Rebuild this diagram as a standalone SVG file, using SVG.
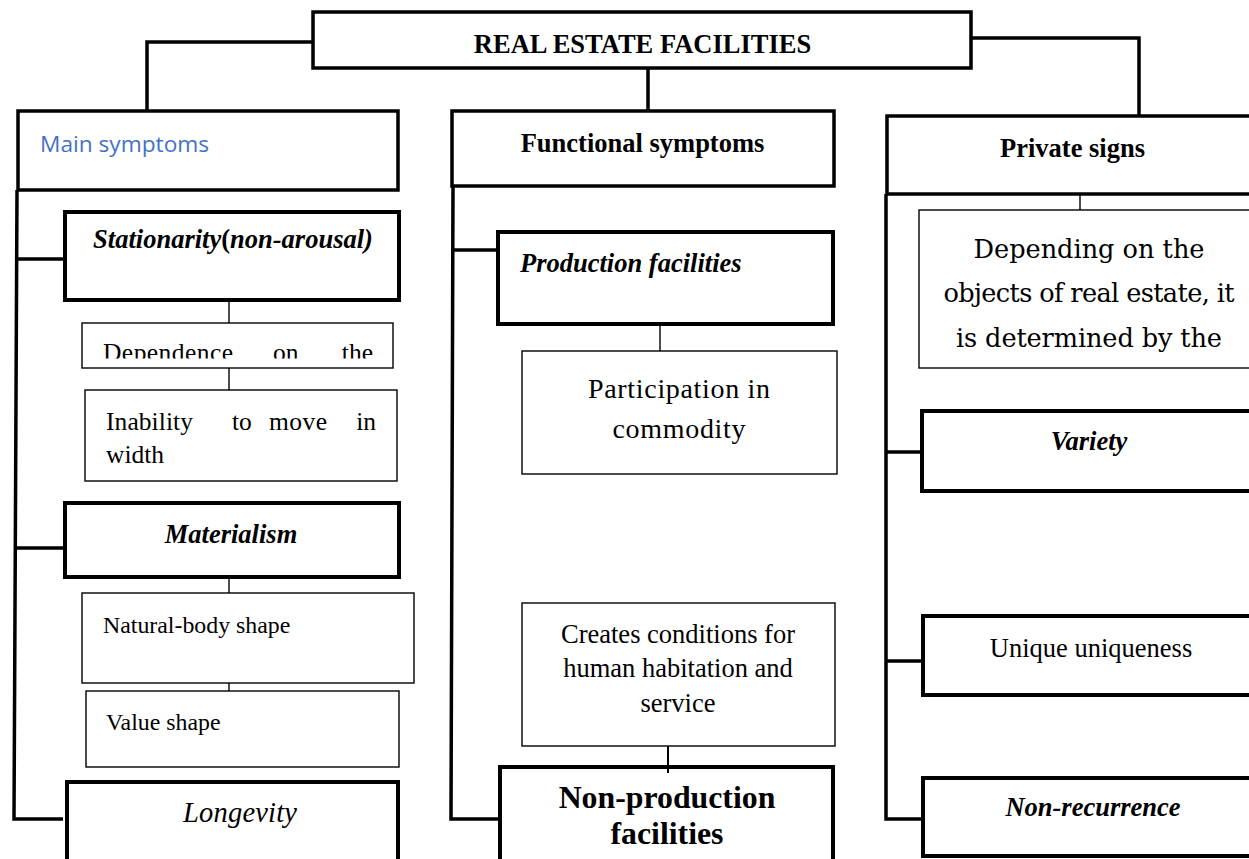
<svg xmlns="http://www.w3.org/2000/svg" width="1249" height="859" viewBox="0 0 1249 859">
<style>
  .bx{fill:#fff;stroke:#000}
  .t3{stroke-width:3.5}
  .t4{stroke-width:4}
  .t1{stroke-width:1.4}
  .c{fill:none;stroke:#000;stroke-width:3.5}
  .cs{fill:none;stroke:#000;stroke-width:1.4}
  text{font-family:"Liberation Serif","Times New Roman",serif;fill:#000}
  .b{font-weight:bold;font-size:26.5px}
  .bi{font-weight:bold;font-style:italic;font-size:26.5px}
  .r{font-size:26.5px}
  .r18{font-size:23.85px}
  .pal{font-family:"DejaVu Serif",serif}
  .p18{font-size:25.5px}
  .p20{font-size:28px}
  .p22{font-size:25.6px}
  .m{text-anchor:middle}
  .e{text-anchor:end}
</style>
<defs>
  <clipPath id="clipDep"><rect x="82" y="323" width="311" height="35.5"/></clipPath>
</defs>
<rect width="1249" height="859" fill="#fff"/>

<g id="connectors">
  <path class="c" d="M313,42 H147 V111"/>
  <path class="c" d="M971,38 H1139 V116"/>
  <path class="c" d="M648,68 V111"/>
  <path class="c" d="M17,190 L14,819 H63"/>
  <path class="c" d="M17,259 H65"/>
  <path class="c" d="M16,548 H65"/>
  <path class="c" d="M453,186 L451,819 H500"/>
  <path class="c" d="M453,250 H498"/>
  <path class="c" d="M886,194 V819 H923"/>
  <path class="c" d="M886,452 H922"/>
  <path class="c" d="M886,661 H923"/>
  <path class="cs" d="M229,300 V323"/>
  <path class="cs" d="M229,368 V390"/>
  <path class="cs" d="M229,577 V593"/>
  <path class="cs" d="M229,683 V691"/>
  <path class="cs" d="M660,324 V351"/>
  <path class="cs" d="M1080,194 V210"/>
</g>

<g id="root">
  <rect class="bx t3" x="313" y="12" width="658" height="56"/>
  <text class="b m" x="642.5" y="53">REAL ESTATE FACILITIES</text>
</g>

<g id="main-symptoms">
  <rect class="bx t3" x="18" y="111" width="380" height="79"/>
  <text x="40" y="152" style="font-family:'Open Sans','Noto Sans',sans-serif;font-size:22.7px;fill:#4472C4">Main symptoms</text>
</g>

<g id="functional-symptoms">
  <rect class="bx t3" x="452" y="111" width="382" height="75"/>
  <text class="b m" x="642.5" y="152">Functional symptoms</text>
</g>

<g id="private-signs">
  <rect class="bx t3" x="887" y="116" width="380" height="78"/>
  <text class="b m" x="1072.5" y="157">Private signs</text>
</g>

<g id="stationarity">
  <rect class="bx t4" x="65" y="212" width="334" height="88"/>
  <text class="bi m" x="233" y="248">Stationarity<tspan font-style="normal">(</tspan>non-arousal)</text>
</g>

<g id="dependence">
  <rect class="bx t1" x="82" y="323" width="311" height="45"/>
  <g clip-path="url(#clipDep)">
    <text class="p18" x="103" y="361" textLength="130" lengthAdjust="spacing">Dependence</text>
    <text class="p18" x="273" y="361">on</text>
    <text class="p18 e" x="373" y="361">the</text>
  </g>
</g>

<g id="inability">
  <rect class="bx t1" x="85" y="390" width="312" height="91"/>
  <text class="p18" x="106" y="430" textLength="87" lengthAdjust="spacing">Inability</text>
  <text class="p18" x="232" y="430">to</text>
  <text class="p18" x="269" y="430" textLength="58" lengthAdjust="spacing">move</text>
  <text class="p18 e" x="376" y="430">in</text>
  <text class="p18" x="106" y="463">width</text>
</g>

<g id="materialism">
  <rect class="bx t4" x="65" y="503" width="334" height="74"/>
  <text class="bi m" x="231" y="543">Materialism</text>
</g>

<g id="natural-body">
  <rect class="bx t1" x="82" y="593" width="332" height="90"/>
  <text class="r18" x="103" y="633">Natural-body shape</text>
</g>

<g id="value-shape">
  <rect class="bx t1" x="86" y="691" width="313" height="76"/>
  <text class="r18" x="106" y="730">Value shape</text>
</g>

<g id="longevity">
  <rect class="bx t4" x="67" y="782" width="331" height="100"/>
  <text class="m" x="240" y="822" font-style="italic" font-size="28.5" textLength="114" lengthAdjust="spacing">Longevity</text>
</g>

<g id="production">
  <rect class="bx t4" x="498" y="232" width="335" height="92"/>
  <text class="bi" x="520" y="272">Production facilities</text>
</g>

<g id="participation">
  <rect class="bx t1" x="522" y="351" width="315" height="123"/>
  <text class="p20 m" x="679" y="398" textLength="182" lengthAdjust="spacing">Participation in</text>
  <text class="p20 m" x="679" y="438" textLength="133" lengthAdjust="spacing">commodity</text>
</g>

<g id="creates">
  <rect class="bx t1" x="522" y="603" width="313" height="143"/>
  <text class="r m" x="678" y="643">Creates conditions for</text>
  <text class="r m" x="678" y="677">human habitation and</text>
  <text class="r m" x="678" y="712">service</text>
</g>

<g id="non-production">
  <rect class="bx t4" x="500" y="767" width="333" height="110"/>
  <path d="M668,746 V773" fill="none" stroke="#000" stroke-width="2"/>
  <text class="m" x="667" y="808" font-weight="bold" font-size="31.8">Non-production</text>
  <text class="m" x="667" y="844" font-weight="bold" font-size="31.8">facilities</text>
</g>

<g id="depending">
  <rect class="bx t1" x="919" y="210" width="350" height="158"/>
  <text class="pal p22 m" x="1089" y="258" textLength="231" lengthAdjust="spacing">Depending on the</text>
  <text class="pal p22 m" x="1089" y="302" textLength="291" lengthAdjust="spacing">objects of real estate, it</text>
  <text class="pal p22 m" x="1089" y="347" textLength="266" lengthAdjust="spacing">is determined by the</text>
</g>

<g id="variety">
  <rect class="bx t4" x="922" y="411" width="350" height="80"/>
  <text class="bi m" x="1089" y="450">Variety</text>
</g>

<g id="unique">
  <rect class="bx t4" x="923" y="616" width="350" height="79"/>
  <text class="r m" x="1091" y="657">Unique uniqueness</text>
</g>

<g id="non-recurrence">
  <rect class="bx t4" x="923" y="778" width="350" height="78"/>
  <text class="bi m" x="1093" y="816">Non-recurrence</text>
</g>
</svg>
